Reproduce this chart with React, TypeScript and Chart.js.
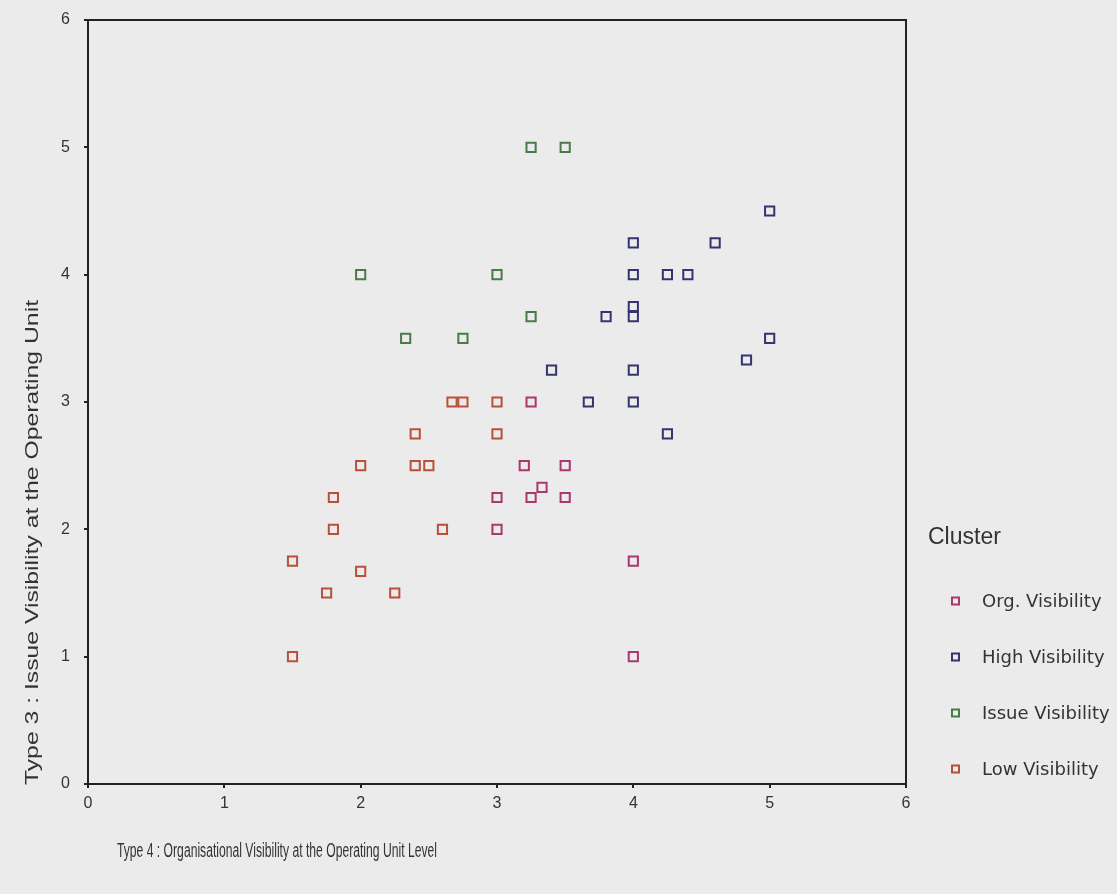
import React, { useEffect, useRef } from "react";
import { Chart, registerables } from "chart.js";

Chart.register(...registerables);

const clusterNames = ["Org. Visibility", "High Visibility", "Issue Visibility", "Low Visibility"];
const clusterColors = ["#a8386e", "#34346e", "#4a7a4a", "#b8503a"];

const orgX = [3.25, 3.2, 3.5, 3.33, 3, 3.25, 3.5, 3, 4, 4];
const orgY = [3, 2.5, 2.5, 2.33, 2.25, 2.25, 2.25, 2, 1.75, 1];

const highX = [5, 4, 4.6, 4, 4.25, 4.4, 4, 4, 3.8, 3.4, 4, 4.83, 5, 3.67, 4, 4.25];
const highY = [4.5, 4.25, 4.25, 4, 4, 4, 3.75, 3.67, 3.67, 3.25, 3.25, 3.33, 3.5, 3, 3, 2.75];

const issueX = [3.25, 3.5, 2, 3, 3.25, 2.33, 2.75];
const issueY = [5, 5, 4, 4, 3.67, 3.5, 3.5];

const lowX = [2.67, 2.75, 3, 2.4, 3, 2, 2.4, 2.5, 1.8, 1.8, 2.6, 1.5, 2, 1.75, 2.25, 1.5];
const lowY = [3, 3, 3, 2.75, 2.75, 2.5, 2.5, 2.5, 2.25, 2, 2, 1.75, 1.67, 1.5, 1.5, 1];

const xTicks = [0, 1, 2, 3, 4, 5, 6];
const yTicks = [0, 1, 2, 3, 4, 5, 6];

const xTitle = "Type 4 : Organisational Visibility at the Operating Unit Level";
const yTitle = "Type 3 : Issue Visibility at the Operating Unit";
const legendTitle = "Cluster";

const zip = (xs: number[], ys: number[]) => xs.map((x, i) => ({ x, y: ys[i] }));

const W = 1117;
const H = 894;

const decorPlugin = {
  id: "decor",
  beforeDatasetsDraw(chart: any) {
    const { ctx, chartArea } = chart;
    const { left, top, right, bottom } = chartArea;
    ctx.save();
    ctx.strokeStyle = "#222";
    ctx.lineWidth = 2;
    ctx.strokeRect(left, top, right - left, bottom - top);
    ctx.restore();
  },
  afterDraw(chart: any) {
    const { ctx } = chart;
    ctx.save();
    ctx.fillStyle = "#333";
    // x title
    ctx.font = "20px 'Liberation Sans Narrow', 'Liberation Sans', Arial, sans-serif";
    ctx.textAlign = "left";
    ctx.textBaseline = "middle";
    ctx.fillText(xTitle, 117, 851, 320);
    // y title (stretched along its length to match the reference)
    ctx.save();
    ctx.font = "19px 'Liberation Sans', Arial, sans-serif";
    const tw = ctx.measureText(yTitle).width;
    ctx.translate(33, 785);
    ctx.rotate(-Math.PI / 2);
    ctx.scale(485 / tw, 1);
    ctx.textAlign = "left";
    ctx.textBaseline = "middle";
    ctx.fillText(yTitle, 0, 0);
    ctx.restore();
    // legend
    ctx.font = "23px 'Liberation Sans', Arial, sans-serif";
    ctx.textAlign = "left";
    ctx.textBaseline = "middle";
    ctx.fillText(legendTitle, 928, 538);
    ctx.font = "18px 'DejaVu Sans', Verdana, sans-serif";
    const rowY = [601, 657, 713, 769];
    clusterNames.forEach((name, i) => {
      const y = rowY[i];
      ctx.strokeStyle = clusterColors[i];
      ctx.lineWidth = 2;
      ctx.strokeRect(952, y - 3.5, 7, 7);
      ctx.fillStyle = "#333";
      ctx.fillText(name, 982, y + 1);
    });
    ctx.restore();
  },
};

export default function App() {
  const ref = useRef<HTMLCanvasElement | null>(null);

  useEffect(() => {
    document.body.style.margin = "0";
    document.body.style.background = "#ebebeb";
    if (!ref.current) return;
    const sets = [zip(orgX, orgY), zip(highX, highY), zip(issueX, issueY), zip(lowX, lowY)];
    const tickFont = { family: "'Liberation Sans', Arial, sans-serif", size: 16 };
    const chart = new Chart(ref.current, {
      type: "scatter",
      data: {
        datasets: sets.map((d, i) => ({
          label: clusterNames[i],
          data: d,
          pointStyle: "rect",
          pointRadius: 6.5,
          pointHoverRadius: 6.5,
          borderColor: clusterColors[i],
          backgroundColor: "rgba(0,0,0,0)",
          borderWidth: 2,
        })),
      },
      options: {
        animation: false,
        responsive: false,
        layout: { padding: { left: 0, top: 20, right: W - 906, bottom: 0 } },
        plugins: {
          legend: { display: false },
          tooltip: { enabled: false },
        },
        scales: {
          x: {
            type: "linear",
            min: 0,
            max: 6,
            afterBuildTicks: (s: any) => {
              s.ticks = xTicks.map((v) => ({ value: v }));
            },
            afterFit: (s: any) => {
              s.height = H - 784;
              s.paddingLeft = 0;
              s.paddingRight = 0;
            },
            grid: { display: true, drawOnChartArea: false, drawTicks: true, tickLength: 4, color: "#222", lineWidth: 2 },
            border: { display: false },
            ticks: { padding: 6, color: "#333", font: tickFont },
          },
          y: {
            type: "linear",
            min: 0,
            max: 6,
            afterBuildTicks: (s: any) => {
              s.ticks = yTicks.map((v) => ({ value: v }));
            },
            afterFit: (s: any) => {
              s.width = 88;
              s.paddingTop = 0;
              s.paddingBottom = 0;
            },
            grid: { display: true, drawOnChartArea: false, drawTicks: true, tickLength: 4, color: "#222", lineWidth: 2 },
            border: { display: false },
            ticks: { padding: 14, color: "#333", font: tickFont },
          },
        },
      },
      plugins: [decorPlugin],
    });
    return () => chart.destroy();
  }, []);

  return (
    <div style={{ position: "absolute", left: 0, top: 0, width: W, height: H, background: "#ebebeb" }}>
      <canvas ref={ref} width={W} height={H} style={{ display: "block" }} />
    </div>
  );
}
